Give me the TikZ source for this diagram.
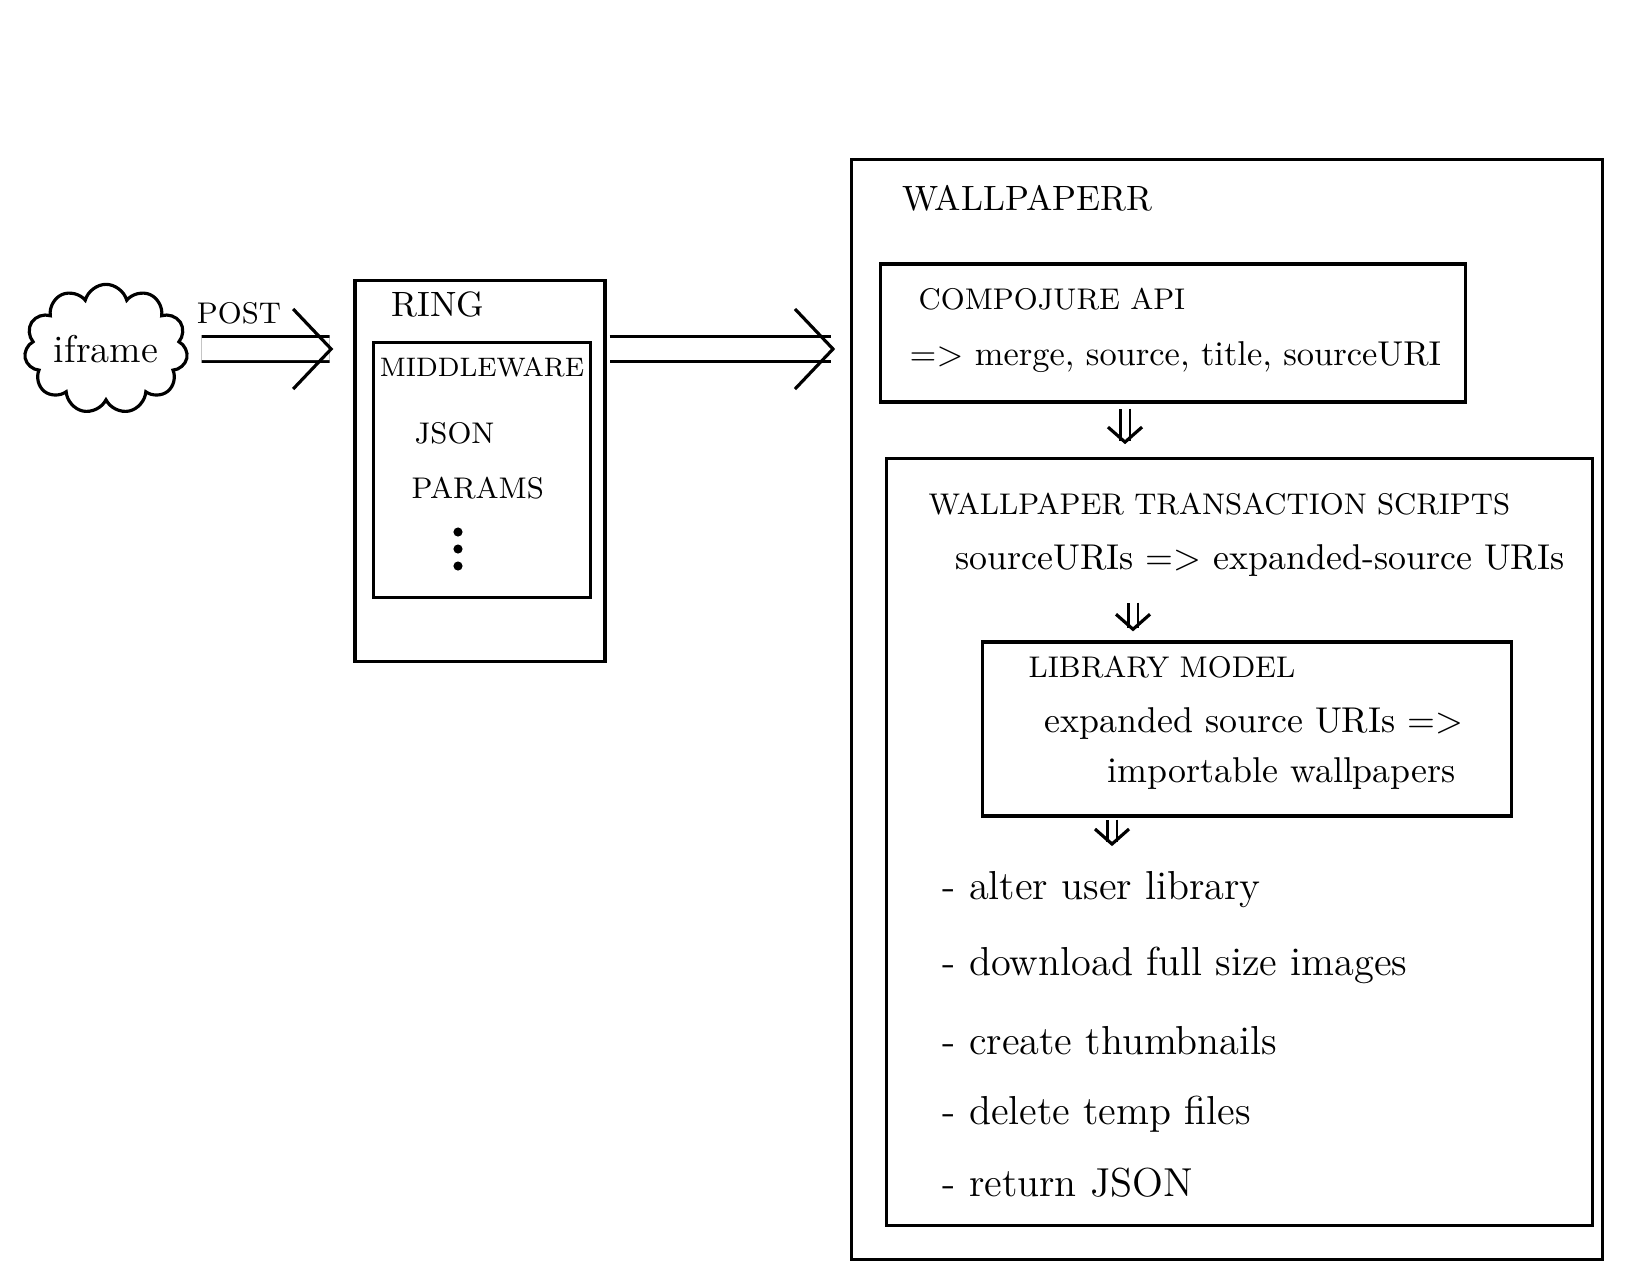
\documentclass[tikz,border=0pt]{standalone}
\usetikzlibrary{shapes.symbols,arrows.meta,positioning}
\tikzset{
  box/.style={draw, line width=0.9pt, inner sep=0pt},
  captext/.style={anchor=west, inner sep=0pt, font=\fontsize{8.5}{10}\selectfont},
  linetext/.style={anchor=west, inner sep=0pt, font=\fontsize{10.2}{13}\selectfont},
  todotext/.style={anchor=west, inner sep=0pt, font=\fontsize{11.5}{14}\selectfont},
  bigarrow/.style={double, double distance=0.22cm, line width=0.8pt,
    -{Straight Barb[length=0.38cm, width=0.8cm, line width=0.9pt]}},
  downarrow/.style={double, double distance=0.07cm, line width=0.8pt,
    -{Straight Barb[length=0.15cm, width=0.34cm, line width=0.9pt]}}
}

\begin{document}
\begin{tikzpicture}[x=0.01cm, y=-0.01cm]
  \useasboundingbox (0,0) rectangle (1645,1275);

  \node[cloud, draw, line width=0.9pt, cloud puffs=11, aspect=1.45, inner sep=0pt,
        minimum width=1.52cm, minimum height=1.05cm,
        font=\fontsize{11}{13}\selectfont] (iframe) at (106,349) {iframe};
  \node[captext, anchor=center] (post) at (239,313) {POST};

  \node[box, minimum width=2.5cm, minimum height=3.8cm] (ring) at (480,471) {};
  \node[captext, font=\fontsize{10}{12}\selectfont] (ringttl) at (391,304) {RING};
  \node[box, minimum width=2.17cm, minimum height=2.55cm] (mw) at (482,470) {};
  \node[captext, anchor=center, font=\fontsize{7.6}{9}\selectfont] (mwttl) at (482,367) {MIDDLEWARE};
  \node[captext] (json) at (414,433) {JSON};
  \node[captext] (params) at (411,488) {PARAMS};
  \foreach \y in {532,549,566} {
    \fill (458,\y) circle (1.3pt);
  }

  \node[box, minimum width=7.5cm, minimum height=10.99cm] (wall) at (1227,709.5) {};
  \node[captext, font=\fontsize{10}{12}\selectfont] (wallttl) at (902,198) {WALLPAPERR};

  \node[box, minimum width=5.84cm, minimum height=1.38cm] (compo) at (1173,333) {};
  \node[captext] (compottl) at (918,299) {COMPOJURE API};
  \node[linetext, font=\fontsize{9.8}{12}\selectfont] (compoout) at (909,357) {=> merge, source, title, sourceURI};

  \node[box, minimum width=7.05cm, minimum height=7.66cm] (trans) at (1239.5,842) {};
  \node[captext] (transttl) at (928,504) {WALLPAPER TRANSACTION SCRIPTS};
  \node[linetext] (uris) at (955,561) {sourceURIs => expanded-source URIs};

  \node[box, minimum width=5.28cm, minimum height=1.74cm] (lib) at (1247,729) {};
  \node[captext] (libttl) at (1028,667) {LIBRARY MODEL};
  \node[linetext] (libin) at (1044,724) {expanded source URIs =>};
  \node[linetext] (libout) at (1107,774) {importable wallpapers};

  \foreach \t/\y [count=\i] in {alter user library/890, download full size images/965,
      create thumbnails/1041, delete temp files/1114, return JSON/1183} {
    \node[todotext] (todo\i) at (942,\y) {- \t};
  }

  \draw[bigarrow, shorten <=0.14cm, shorten >=0.2cm] (iframe) -- (iframe -| ring.west);
  \draw[bigarrow, shorten <=0.03cm, shorten >=0.15cm] (ring.east |- iframe) -- (wall.west |- iframe);

  \coordinate (a1) at (1125,0);
  \coordinate (a2) at (1133,0);
  \coordinate (a3) at (1112,0);
  \draw[downarrow, shorten <=0.05cm, shorten >=0.13cm] (compo.south -| a1) -- (trans.north -| a1);
  \draw[downarrow, shorten <=0.25cm, shorten >=0.09cm] (uris.south -| a2) -- (lib.north -| a2);
  \draw[downarrow, shorten <=0.02cm, shorten >=0.25cm] (lib.south -| a3) -- (todo1.north -| a3);
\end{tikzpicture}
\end{document}
